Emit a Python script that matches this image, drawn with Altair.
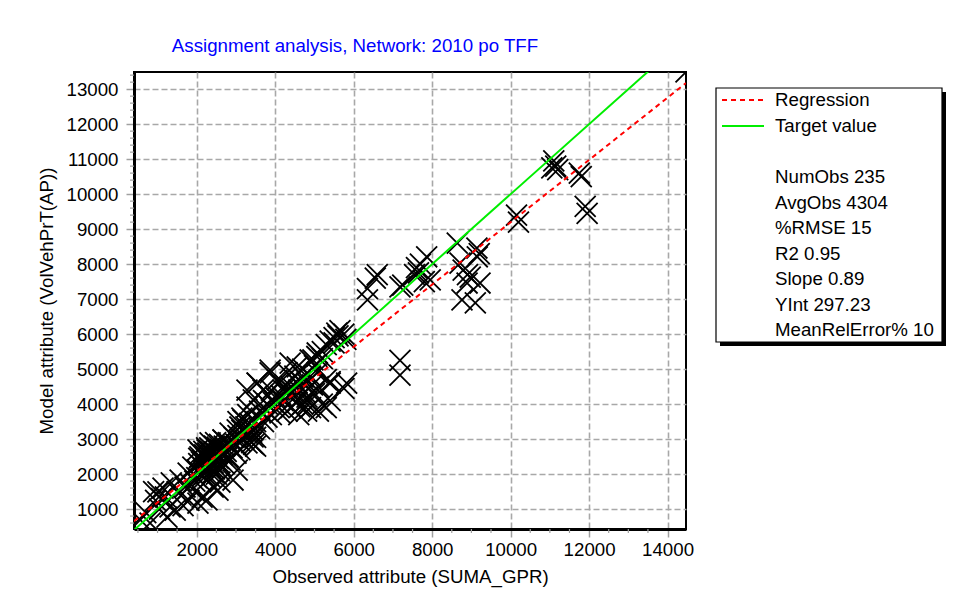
import altair as alt
import pandas as pd

# ---------------- data ----------------
obs = [
    # low range
    560, 810, 950, 1010, 1140, 1240, 1320, 1450, 1575, 1700, 1780, 1960, 2010, 2030, 2135,
    1200, 1050, 700, 1600, 1850, 1900, 1500, 1350, 1800, 2000, 1650, 900, 1100, 1950, 2050,
    # 2000-3500
    2260, 2420, 2540, 2590, 2925, 2340, 2420, 2850, 3030, 2080, 2260, 2520, 2670, 2850, 3100,
    3280, 3430, 2030, 2340, 2670, 3030, 3180, 3280, 3435, 2100, 2150, 2200, 2250, 2300, 2350,
    2400, 2450, 2500, 2550, 2600, 2650, 2700, 2750, 2800, 2900, 2950, 3000, 3050, 3100, 3150,
    3200, 3250, 3300, 3350, 3400, 3450, 3500, 2150, 2250, 2350, 2450, 2550, 2600, 2200, 2100,
    2500, 2700, 2800, 3000, 3100, 3300, 3150, 3050,
    2050, 2120, 2180, 2230, 2280, 2330, 2380, 2430, 2480, 2530, 2580, 2630, 2050, 2150, 2420, 2580,
    # 3500-5500
    3440, 3690, 3870, 4050, 4300, 4560, 4630, 4810, 4960, 5070, 3540, 3790, 4120, 3870, 4200,
    4380, 4560, 4710, 4890, 5070, 3280, 3540, 3600, 3700, 3800, 3900, 4000, 4100, 4200, 4300,
    4400, 4500, 4600, 4700, 4800, 4900, 5000, 5100, 5200, 5300, 5400, 4400, 4500, 4700, 4900,
    5000, 5200, 5300, 5400, 5100, 4600, 4800, 3900, 4100, 4300, 3700, 3600, 3500, 3400, 3500,
    4150, 4250, 4450, 4550, 4650, 4750, 4850, 4950, 3950, 3750,
    # 5000-6000
    5570, 5500, 5650, 5750, 5800, 5400, 5300, 5200, 5600, 5820, 5750, 5400, 5060, 5500,
    # 6000-8000
    6350, 6350, 6600, 6550, 7180, 7250, 7550, 7600, 7700, 7860, 7950, 7800, 7650, 7180, 7180,
    # 8500-9500
    8640, 8710, 8790, 8970, 9150, 9220, 8890, 8760, 9100, 9140, 9200, 8900,
    # 10000+
    10150, 10200, 11100, 11150, 11200, 11050, 11750, 11800, 11900, 11950, 14470,
]
model = [
    690, 600, 1250, 1490, 1600, 770, 1060, 970, 1830, 1630, 2030, 1490, 2120, 1170, 1340,
    1350, 1000, 900, 1400, 1700, 2200, 1500, 1750, 1250, 1900, 1100, 1500, 1300, 1800, 2300,
    1260, 1630, 1540, 1770, 1830, 1915, 2315, 2400, 2115, 2490, 2690, 2770, 2970, 3170, 3345,
    2890, 3260, 2690, 2890, 2975, 3260, 3545, 3915, 3060, 2600, 2400, 2550, 2750, 2500, 2650,
    2450, 2800, 2600, 2350, 2700, 2550, 2800, 2650, 2900, 2750, 3050, 2850, 3100, 2950, 3250,
    3000, 3350, 3150, 3450, 3200, 2850, 3050, 2200, 2300, 2200, 2150, 2450, 2250, 2000, 1800,
    2000, 2300, 2500, 2600, 2700, 3700, 3600, 3500,
    2450, 2350, 2650, 2450, 2600, 2750, 2550, 2650, 2900, 2700, 2850, 2600, 2050, 1950, 2050, 2100,
    4120, 4400, 4890, 4690, 4320, 4600, 3920, 4200, 5260, 4890, 4600, 3630, 3745, 4970, 4400,
    5170, 5060, 4770, 5260, 5460, 4400, 4600, 3800, 3500, 4000, 3700, 4200, 3900, 4100, 3800,
    4500, 4200, 4400, 4000, 4600, 3900, 4300, 3800, 4000, 3900, 4100, 3900, 4800, 5000, 4800,
    5100, 5300, 4700, 4600, 4500, 3700, 3800, 4400, 4600, 4900, 4100, 3300, 3500, 2900, 2800,
    4250, 4550, 4350, 4050, 4650, 4350, 4050, 4550, 4050, 3850,
    6030, 5900, 6100, 6000, 5850, 5800, 5700, 5500, 5950, 4600, 4450, 4640, 5360, 5750,
    7300, 6980, 7700, 7600, 7350, 7400, 7700, 7900, 8000, 8210, 7550, 7500, 7750, 5250, 4830,
    8600, 8030, 7830, 7630, 8210, 7460, 7460, 6980, 6890, 8460, 8300, 7700,
    9400, 9200, 10950, 10800, 10700, 10750, 10600, 10500, 9650, 9450, 13490,
]

title_text = "Assignment analysis, Network: 2010 po TFF"
x_title = "Observed attribute (SUMA_GPR)"
y_title = "Model attribute (VolVehPrT(AP))"
x_ticks = [2000, 4000, 6000, 8000, 10000, 12000, 14000]
y_ticks = [1000, 2000, 3000, 4000, 5000, 6000, 7000, 8000, 9000, 10000, 11000, 12000, 13000]
x_minor = [500, 1000, 1500, 2500, 3000, 3500, 4500, 5000, 5500, 6500, 7000, 7500, 8500, 9000,
           9500, 10500, 11000, 11500, 12500, 13000, 13500, 14500]
y_minor = [600, 800, 1200, 1400, 1600, 1800, 2200, 2400, 2600, 2800, 3200, 3400, 3600, 3800,
           4200, 4400, 4600, 4800, 5200, 5400, 5600, 5800, 6200, 6400, 6600, 6800, 7200, 7400,
           7600, 7800, 8200, 8400, 8600, 8800, 9200, 9400, 9600, 9800, 10200, 10400, 10600,
           10800, 11200, 11400, 11600, 11800, 12200, 12400, 12600, 12800, 13200, 13400]
x_domain = [400, 14470]
y_domain = [430, 13490]
reg_slope = 0.89
reg_intercept = 297.23
legend_items = ["Regression", "Target value"]
stats = ["NumObs 235", "AvgObs 4304", "%RMSE 15", "R2 0.95", "Slope 0.89",
         "YInt 297.23", "MeanRelError% 10"]

# ---------------- frames ----------------
pts = pd.DataFrame({"obs": obs, "model": model})
lines = pd.DataFrame({
    "obs": [x_domain[0], x_domain[1], x_domain[0], x_domain[1]],
    "model": [x_domain[0], x_domain[1],
              reg_slope * x_domain[0] + reg_intercept, reg_slope * x_domain[1] + reg_intercept],
    "series": ["Target value", "Target value", "Regression", "Regression"],
})
xm = pd.DataFrame({"obs": [v for v in x_minor if x_domain[0] <= v <= x_domain[1]]})
ym = pd.DataFrame({"model": [v for v in y_minor if y_domain[0] <= v <= y_domain[1]]})
one = pd.DataFrame({"k": [0]})

FONT = "Liberation Sans"
FS = 18.7
W, H = 552, 457

xscale = alt.Scale(domain=x_domain, nice=False, zero=False)
yscale = alt.Scale(domain=y_domain, nice=False, zero=False)

x_axis = alt.Axis(values=x_ticks, format="d", title=x_title, grid=True, gridDash=[6, 3],
                  gridColor="#a8a8a8", gridWidth=1.6, tickSize=8, tickColor="#a0a0a0",
                  tickWidth=1.5, labelPadding=3, titlePadding=9, domainColor="black",
                  domainWidth=3, labelFontSize=FS, titleFontSize=FS, labelFont=FONT,
                  titleFont=FONT, titleFontWeight="normal", labelColor="black",
                  titleColor="black", labelFlush=False, labelOverlap=False)
y_axis = alt.Axis(values=y_ticks, format="d", title=y_title, grid=True, gridDash=[6, 3],
                  gridColor="#a8a8a8", gridWidth=1.6, tickSize=8, tickColor="#a0a0a0",
                  tickWidth=1.5, labelPadding=8, titlePadding=10, domainColor="black",
                  domainWidth=3, labelFontSize=FS, titleFontSize=FS, labelFont=FONT,
                  titleFont=FONT, titleFontWeight="normal", labelColor="black",
                  titleColor="black", labelFlush=False, labelOverlap=False)

X = alt.X("obs:Q", scale=xscale, axis=x_axis)
Y = alt.Y("model:Q", scale=yscale, axis=y_axis)

scatter = alt.Chart(pts).mark_point(
    shape="M-1,-1L1,1M-1,1L1,-1", filled=False, stroke="black", strokeWidth=1.8,
    size=440, opacity=1, clip=True,
).encode(x=X, y=Y)

target = alt.Chart(lines).transform_filter(
    alt.datum.series == "Target value"
).mark_line(color="#00ee00", strokeWidth=2, clip=True).encode(x=X, y=Y)

regression = alt.Chart(lines).transform_filter(
    alt.datum.series == "Regression"
).mark_line(color="#ff0000", strokeWidth=2, strokeDash=[5, 4], clip=True).encode(x=X, y=Y)

xminor_ticks = alt.Chart(xm).mark_rule(color="#a0a0a0", strokeWidth=1.2).encode(
    x=X, y=alt.value(H), y2=alt.value(H + 4)
)
yminor_ticks = alt.Chart(ym).mark_rule(color="#a0a0a0", strokeWidth=1.2).encode(
    y=Y, x=alt.value(-4), x2=alt.value(0)
)

# legend box (outside plot area, right side)
LX0, LX1, LY0, LY1 = 582, 808, 16, 270
shadow = alt.Chart(one).mark_rect(color="black").encode(
    x=alt.value(LX0 + 4), x2=alt.value(LX1 + 4), y=alt.value(LY0 + 4), y2=alt.value(LY1 + 4)
)
box = alt.Chart(one).mark_rect(fill="white", stroke="black", strokeWidth=1.2).encode(
    x=alt.value(LX0), x2=alt.value(LX1), y=alt.value(LY0), y2=alt.value(LY1)
)
leg_reg = alt.Chart(one).mark_rule(color="#ff0000", strokeWidth=2, strokeDash=[5, 4]).encode(
    x=alt.value(588), x2=alt.value(630), y=alt.value(28)
)
leg_tgt = alt.Chart(one).mark_rule(color="#00ee00", strokeWidth=2).encode(
    x=alt.value(588), x2=alt.value(630), y=alt.value(54)
)
leg_text = alt.Chart(one).mark_text(
    align="left", baseline="middle", font=FONT, fontSize=FS, color="black", lineHeight=26
).encode(x=alt.value(641), y=alt.value(28), text=alt.value(legend_items))
stats_text = alt.Chart(one).mark_text(
    align="left", baseline="middle", font=FONT, fontSize=FS, color="black", lineHeight=25.5
).encode(x=alt.value(641), y=alt.value(105), text=alt.value(stats))

chart = alt.layer(
    scatter, target, regression, xminor_ticks, yminor_ticks,
    shadow, box, leg_reg, leg_tgt, leg_text, stats_text,
).properties(
    width=W, height=H,
    background="white",
    title=alt.TitleParams(title_text, color="#0000ff", fontSize=FS, font=FONT,
                          fontWeight="normal", anchor="middle", frame="group",
                          dx=-55, offset=16),
    autosize=alt.AutoSizeParams(type="none"),
    padding={"left": 126, "top": 64, "right": 272, "bottom": 70},
).configure_view(stroke="black", strokeWidth=2)

chart.save("out.html", embed_options={"renderer": "svg", "actions": False})
